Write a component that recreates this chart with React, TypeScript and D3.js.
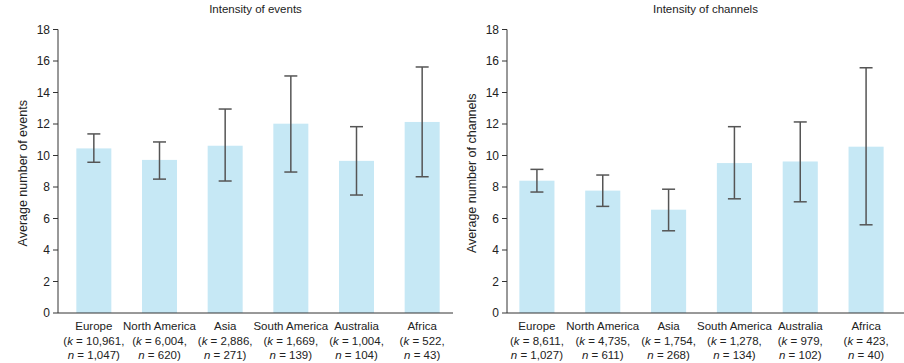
import React from 'react';
import * as d3 from 'd3';

const regions = ['Europe', 'North America', 'Asia', 'South America', 'Australia', 'Africa'];

const eventMeans = [10.45, 9.72, 10.62, 12.02, 9.66, 12.13];
const eventLow = [9.57, 8.5, 8.38, 8.95, 7.49, 8.65];
const eventHigh = [11.37, 10.86, 12.95, 15.05, 11.83, 15.62];
const eventK = ['10,961', '6,004', '2,886', '1,669', '1,004', '522'];
const eventN = ['1,047', '620', '271', '139', '104', '43'];

const channelMeans = [8.4, 7.77, 6.56, 9.52, 9.62, 10.56];
const channelLow = [7.68, 6.77, 5.22, 7.25, 7.06, 5.6];
const channelHigh = [9.12, 8.76, 7.86, 11.83, 12.13, 15.57];
const channelK = ['8,611', '4,735', '1,754', '1,278', '979', '423'];
const channelN = ['1,027', '611', '268', '134', '102', '40'];

const yTicks = [0, 2, 4, 6, 8, 10, 12, 14, 16, 18];

const FONT = '"Liberation Sans", Arial, sans-serif';
const BAR = '#c6e8f5';
const ERR = '#555555';
const AXIS = '#333333';
const TEXT = '#222222';

const y = d3.scaleLinear().domain([0, 18]).range([313, 29.5]);

const Panel = ({ title, yLabel, axisX, axisEnd, bandStart, bandEnd, means, low, high, ks, ns }) => {
  const x = d3.scaleBand()
    .domain(regions)
    .range([bandStart, bandEnd])
    .paddingInner(0.467)
    .paddingOuter(0.2335);
  const bw = x.bandwidth();
  const cap = 6.5;

  return (
    <g fontFamily={FONT} fill={TEXT}>
      <text x={(axisX + axisEnd) / 2} y={13} textAnchor="middle" fontSize={11.5}>{title}</text>
      <text
        transform={`translate(${axisX - 31}, ${(y(0) + y(18)) / 2 + 2}) rotate(-90)`}
        textAnchor="middle"
        fontSize={12.5}
      >
        {yLabel}
      </text>

      {regions.map((r, i) => (
        <rect key={r} x={x(r)} y={y(means[i])} width={bw} height={y(0) - y(means[i])} fill={BAR} />
      ))}

      {regions.map((r, i) => {
        const cx = x(r) + bw / 2;
        return (
          <g key={r} stroke={ERR} strokeWidth={1.5}>
            <line x1={cx} x2={cx} y1={y(low[i])} y2={y(high[i])} />
            <line x1={cx - cap} x2={cx + cap} y1={y(high[i])} y2={y(high[i])} />
            <line x1={cx - cap} x2={cx + cap} y1={y(low[i])} y2={y(low[i])} />
          </g>
        );
      })}

      <line x1={axisX} x2={axisX} y1={y(18)} y2={y(0)} stroke={AXIS} strokeWidth={1} />
      <line x1={axisX} x2={axisEnd} y1={y(0)} y2={y(0)} stroke={AXIS} strokeWidth={1} />
      {yTicks.map(t => (
        <g key={t}>
          <line x1={axisX - 5} x2={axisX} y1={y(t)} y2={y(t)} stroke={AXIS} strokeWidth={1} />
          <text x={axisX - 8} y={y(t)} dy="0.35em" textAnchor="end" fontSize={12}>{t}</text>
        </g>
      ))}

      {regions.map((r, i) => {
        const cx = x(r) + bw / 2;
        return (
          <text key={r} x={cx} textAnchor="middle" fontSize={11.5}>
            <tspan x={cx} y={330}>{r}</tspan>
            <tspan x={cx} y={344.5}>(<tspan fontStyle="italic">k</tspan> = {ks[i]},</tspan>
            <tspan x={cx} y={359}><tspan fontStyle="italic">n</tspan> = {ns[i]})</tspan>
          </text>
        );
      })}
    </g>
  );
};

export default function App() {
  return (
    <svg width={904} height={363} style={{ position: 'absolute', left: 0, top: 0, background: '#fff' }}>
      <Panel
        title="Intensity of events"
        yLabel="Average number of events"
        axisX={58}
        axisEnd={453}
        bandStart={61}
        bandEnd={455}
        means={eventMeans}
        low={eventLow}
        high={eventHigh}
        ks={eventK}
        ns={eventN}
      />
      <Panel
        title="Intensity of channels"
        yLabel="Average number of channels"
        axisX={507}
        axisEnd={904}
        bandStart={504}
        bandEnd={899}
        means={channelMeans}
        low={channelLow}
        high={channelHigh}
        ks={channelK}
        ns={channelN}
      />
    </svg>
  );
}
